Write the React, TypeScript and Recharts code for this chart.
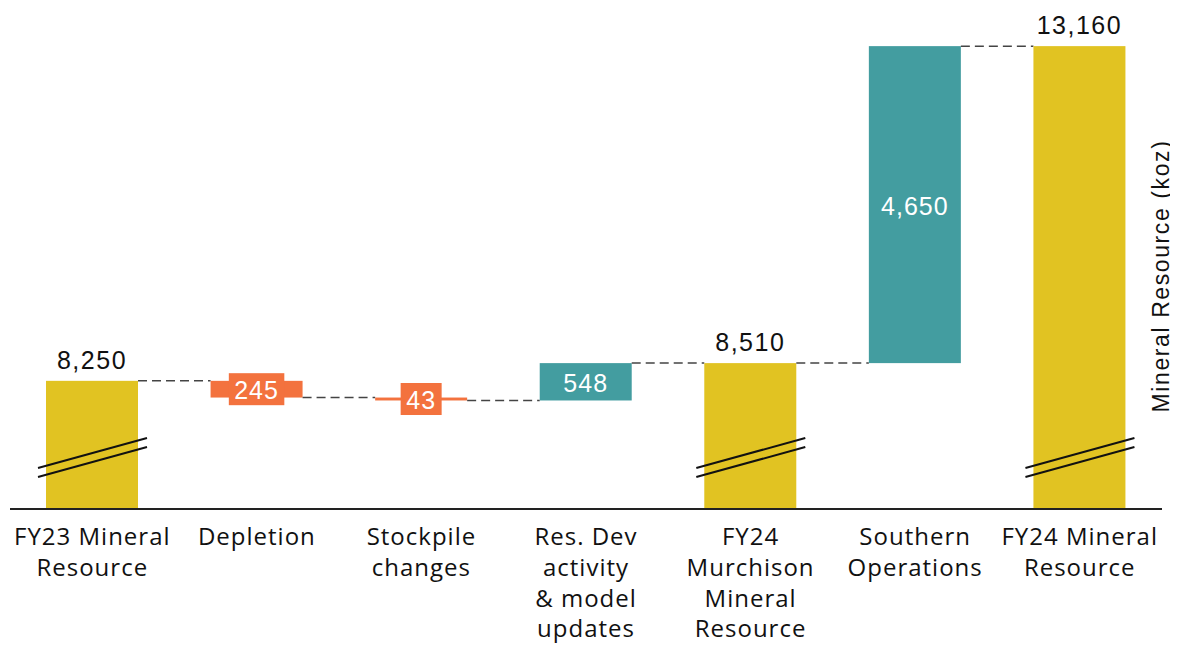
import { BarChart, Bar, XAxis, YAxis, Cell, LabelList } from 'recharts'

// categories (line breaks as in the source)
const categories = [
  'FY23 Mineral\nResource',
  'Depletion',
  'Stockpile\nchanges',
  'Res. Dev\nactivity\n& model\nupdates',
  'FY24\nMurchison\nMineral\nResource',
  'Southern\nOperations',
  'FY24 Mineral\nResource',
]
// 'total' bars start at zero (axis is broken), 'down' / 'up' float
const kinds = ['total', 'down', 'down', 'up', 'total', 'up', 'total']
const amounts = [8250, 245, 43, 548, 8510, 4650, 13160]

const Y_DOMAIN = [6370, 13690]

const COLORS: Record<string, string> = {
  total: '#E1C322',
  down: '#F3723E',
  up: '#439DA0',
}

const W = 1170
const H = 637
const MARGIN = { top: 2, right: 16, left: 2, bottom: 0 }
const XAXIS_H = 136
const PLOT_W = W - MARGIN.left - MARGIN.right
const BASE_Y = H - MARGIN.bottom - XAXIS_H
const BAND = PLOT_W / categories.length
const BAR_W = 92

const NUM_FONT = '"Liberation Sans", Arial, sans-serif'
const CAT_FONT = '"Open Sans", sans-serif'

const fmt = (v: number) => v.toLocaleString('en-US')

// build waterfall rows from the arrays
let running = 0
const data = categories.map((name, i) => {
  const k = kinds[i]
  const a = amounts[i]
  let range: [number, number]
  if (k === 'total') {
    range = [0, a]
    running = a
  } else if (k === 'down') {
    range = [running - a, running]
    running -= a
  } else {
    range = [running, running + a]
    running += a
  }
  return { name, kind: k, amount: a, range }
})

function WaterfallShape(props: any) {
  const { x, y, width, height, index, payload } = props
  const kind = payload?.kind ?? kinds[index]
  const top = Math.min(y, y + height)
  let bottom = Math.max(y, y + height)
  if (bottom > BASE_Y) bottom = BASE_Y
  const fill = COLORS[kind]
  const right = x + width
  // dashed connector to the next bar at the running total level
  const level = kind === 'down' ? bottom : top
  const isLast = index === categories.length - 1
  return (
    <g>
      <rect x={x} y={top} width={width} height={Math.max(bottom - top, 0)} fill={fill} />
      {!isLast && (
        <line
          x1={right}
          x2={right + (BAND - width)}
          y1={level}
          y2={level}
          stroke="#444"
          strokeWidth={1.5}
          strokeDasharray="9 5"
        />
      )}
      {kind === 'total' && (
        <g stroke="#111" strokeWidth={2}>
          <line x1={x - 8} y1={BASE_Y - 41} x2={right + 9} y2={BASE_Y - 71} />
          <line x1={x - 8} y1={BASE_Y - 32} x2={right + 9} y2={BASE_Y - 62} />
        </g>
      )}
    </g>
  )
}

function ValueLabel(props: any) {
  const { x, y, width, height, index } = props
  const i = typeof index === 'number' ? index : Math.floor((x - MARGIN.left) / BAND)
  const kind = kinds[i]
  const text = fmt(amounts[i])
  const top = Math.min(y, y + height)
  const bottom = Math.min(Math.max(y, y + height), BASE_Y)
  const cx = x + width / 2
  if (kind === 'total') {
    return (
      <text x={cx} y={top - 21} textAnchor="middle" dominantBaseline="central"
        fontFamily={NUM_FONT} fontSize={25} letterSpacing={1.5} fill="#111">
        {text}
      </text>
    )
  }
  const cy = (top + bottom) / 2
  const boxW = text.length * 14.5 + 12
  const boxH = 32
  const needBox = bottom - top < boxH
  return (
    <g>
      {needBox && (
        <rect x={cx - boxW / 2} y={cy - boxH / 2} width={boxW} height={boxH} fill={COLORS[kind]} />
      )}
      <text x={cx} y={cy + 1} textAnchor="middle" dominantBaseline="central"
        fontFamily={NUM_FONT} fontSize={25} letterSpacing={1} fill="#fff">
        {text}
      </text>
    </g>
  )
}

function CategoryTick(props: any) {
  const { x, y, payload } = props
  const lines = String(payload.value).split('\n')
  return (
    <text x={x} y={y} textAnchor="middle" fontFamily={CAT_FONT} fontSize={24} letterSpacing={1} fill="#111">
      {lines.map((l, i) => (
        <tspan key={i} x={x} y={y + 36 + i * 30.8}>
          {l}
        </tspan>
      ))}
    </text>
  )
}

export default function App() {
  return (
    <div style={{ position: 'relative', width: W, height: H }}>
      <BarChart width={W} height={H} data={data} margin={MARGIN} barSize={BAR_W}>
        <XAxis
          dataKey="name"
          interval={0}
          height={XAXIS_H}
          tickLine={false}
          tickSize={0}
          tickMargin={0}
          axisLine={{ stroke: '#222', strokeWidth: 2 }}
          tick={<CategoryTick />}
        />
        <YAxis hide domain={Y_DOMAIN} allowDataOverflow />
        <Bar dataKey="range" isAnimationActive={false} shape={<WaterfallShape />}>
          {data.map((d, i) => (
            <Cell key={i} fill={COLORS[d.kind]} />
          ))}
          <LabelList dataKey="range" content={<ValueLabel />} />
        </Bar>
      </BarChart>
      <div
        style={{
          position: 'absolute',
          left: 1153,
          top: 268,
          transform: 'translate(-50%, -50%) rotate(-90deg)',
          whiteSpace: 'nowrap',
          fontFamily: NUM_FONT,
          fontSize: 23,
          letterSpacing: 1.6,
          color: '#111',
        }}
      >
        Mineral Resource (koz)
      </div>
    </div>
  )
}
